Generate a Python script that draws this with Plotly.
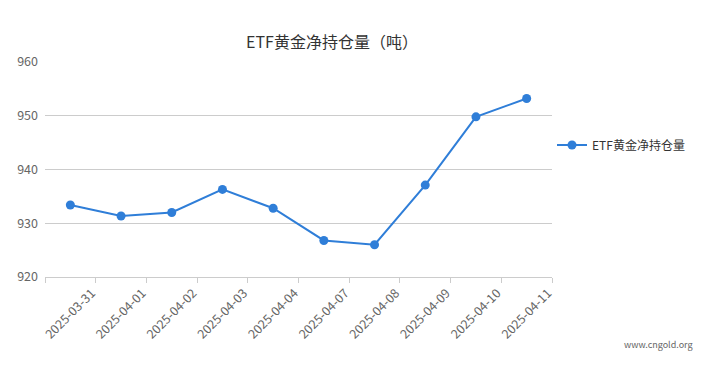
import plotly.graph_objects as go

dates = ["2025-03-31", "2025-04-01", "2025-04-02", "2025-04-03", "2025-04-04",
         "2025-04-07", "2025-04-08", "2025-04-09", "2025-04-10", "2025-04-11"]
holdings = [933.4, 931.35, 932.0, 936.3, 932.8, 926.8, 926.0, 937.1, 949.8, 953.2]
series_name = "ETF黄金净持仓量"
title_text = "ETF黄金净持仓量（吨）"
y_ticks = [920, 930, 940, 950, 960]

FONT = "Noto Sans CJK SC, Microsoft YaHei, sans-serif"
COLOR = "#2f7ed8"

# page body has an 8px default margin; compensate
OFF = 8
W, H = 702 - OFF, 366 - OFF

idx = list(range(len(dates)))
boundaries = [i - 0.5 for i in range(len(dates) + 1)]
label_pos = [i + 0.5 - 0.08 for i in range(len(dates))]

fig = go.Figure()
fig.add_trace(go.Scatter(
    x=idx, y=holdings, mode="lines+markers", name=series_name,
    line=dict(color=COLOR, width=2),
    marker=dict(color=COLOR, size=9),
))

fig.update_layout(
    width=W, height=H,
    margin=dict(l=45 - OFF, r=150, t=62 - OFF, b=89, autoexpand=False),
    paper_bgcolor="white", plot_bgcolor="white",
    font=dict(family=FONT, size=12, color="#666"),
    title=dict(text=title_text, x=(332 - OFF) / W, xanchor="center", y=1 - (42 - OFF) / H,
               yanchor="middle", yref="container",
               font=dict(family=FONT, size=16, color="#333")),
    showlegend=True,
    legend=dict(x=1.0, xanchor="left", y=0.614, yanchor="middle",
                font=dict(family=FONT, size=12, color="#333"),
                bgcolor="rgba(0,0,0,0)"),
    xaxis=dict(
        range=[-0.5, len(dates) - 0.5],
        tickmode="array", tickvals=label_pos, ticktext=dates,
        tickangle=-45, ticks="", ticklabelstandoff=3,
        minor=dict(tickmode="array", tickvals=boundaries, ticks="outside",
                   ticklen=5, tickcolor="#ccc", showgrid=False),
        showline=True, linecolor="#ccc", linewidth=1,
        showgrid=False, zeroline=False, automargin=False,
        tickfont=dict(family=FONT, size=12.5, color="#666"),
        fixedrange=True,
    ),
    yaxis=dict(
        range=[920, 960], tickmode="array", tickvals=y_ticks,
        showgrid=True, gridcolor="#ccc", gridwidth=1,
        showline=False, zeroline=False, ticks="", automargin=False,
        ticklabelstandoff=6,
        tickfont=dict(family=FONT, size=12.5, color="#666"),
    ),
    annotations=[dict(
        text="www.cngold.org", xref="paper", yref="paper",
        x=(695 - 45) / 507, y=(277 - 344) / 215, xanchor="right", yanchor="middle",
        showarrow=False, font=dict(family=FONT, size=9, color="#666"),
    )],
)

fig.write_html("out.html")
